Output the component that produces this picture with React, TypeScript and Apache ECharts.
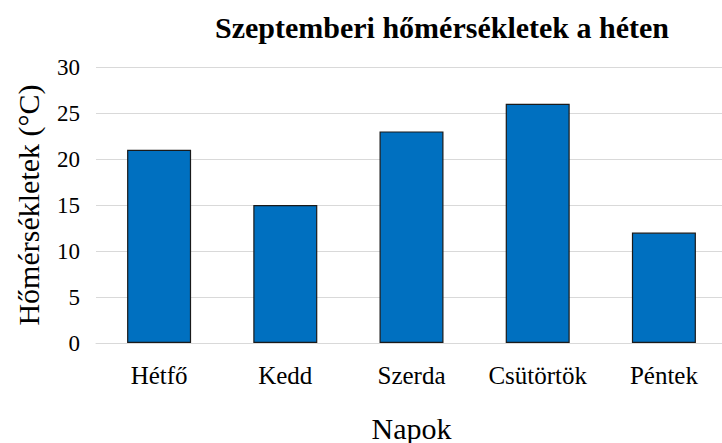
import React, { useEffect, useRef } from "react";
import * as echarts from "echarts";

const categories = ["Hétfő", "Kedd", "Szerda", "Csütörtök", "Péntek"];
const values = [21, 15, 23, 26, 12];
const titleText = "Szeptemberi hőmérsékletek a héten";
const xName = "Napok";
const yName = "Hőmérsékletek (°C)";

const FONT = "Liberation Serif";

export default function App() {
  const ref = useRef<HTMLDivElement>(null);
  useEffect(() => {
    document.body.style.margin = "0";
    const chart = echarts.init(ref.current!, null, { renderer: "svg" });
    chart.setOption({
      animation: false,
      backgroundColor: "#ffffff",
      textStyle: { fontFamily: FONT },
      title: {
        text: titleText,
        left: 437,
        top: 7,
        textAlign: "center",
        textStyle: { fontFamily: FONT, fontWeight: "bold", fontSize: 30, color: "#000" },
      },
      grid: { left: 96, right: -5, top: 67, bottom: 100, outerBoundsMode: "none", containLabel: false },
      xAxis: {
        type: "category",
        data: categories,
        name: xName,
        nameLocation: "middle",
        nameGap: 70,
        nameTextStyle: { fontFamily: FONT, fontSize: 30, color: "#000" },
        axisLine: { show: true, lineStyle: { color: "#d9d9d9", width: 1 } },
        axisTick: { show: false },
        axisLabel: { fontFamily: FONT, fontSize: 25, color: "#000", margin: 20, interval: 0, hideOverlap: false },
      },
      yAxis: {
        type: "value",
        min: 0,
        max: 30,
        interval: 5,
        name: yName,
        nameLocation: "middle",
        nameGap: 53,
        nameTextStyle: { fontFamily: FONT, fontSize: 30, color: "#000" },
        axisLine: { show: false },
        axisTick: { show: false },
        splitLine: { lineStyle: { color: "#d9d9d9", width: 1 } },
        axisLabel: { fontFamily: FONT, fontSize: 23, color: "#000", margin: 16 },
      },
      series: [
        {
          type: "bar",
          data: values,
          barWidth: 64,
          itemStyle: { color: "#0070c0", borderColor: "#1a1a1a", borderWidth: 1.2 },
        },
      ],
    });
    return () => chart.dispose();
  }, []);
  return <div ref={ref} style={{ width: 722, height: 443 }} />;
}
